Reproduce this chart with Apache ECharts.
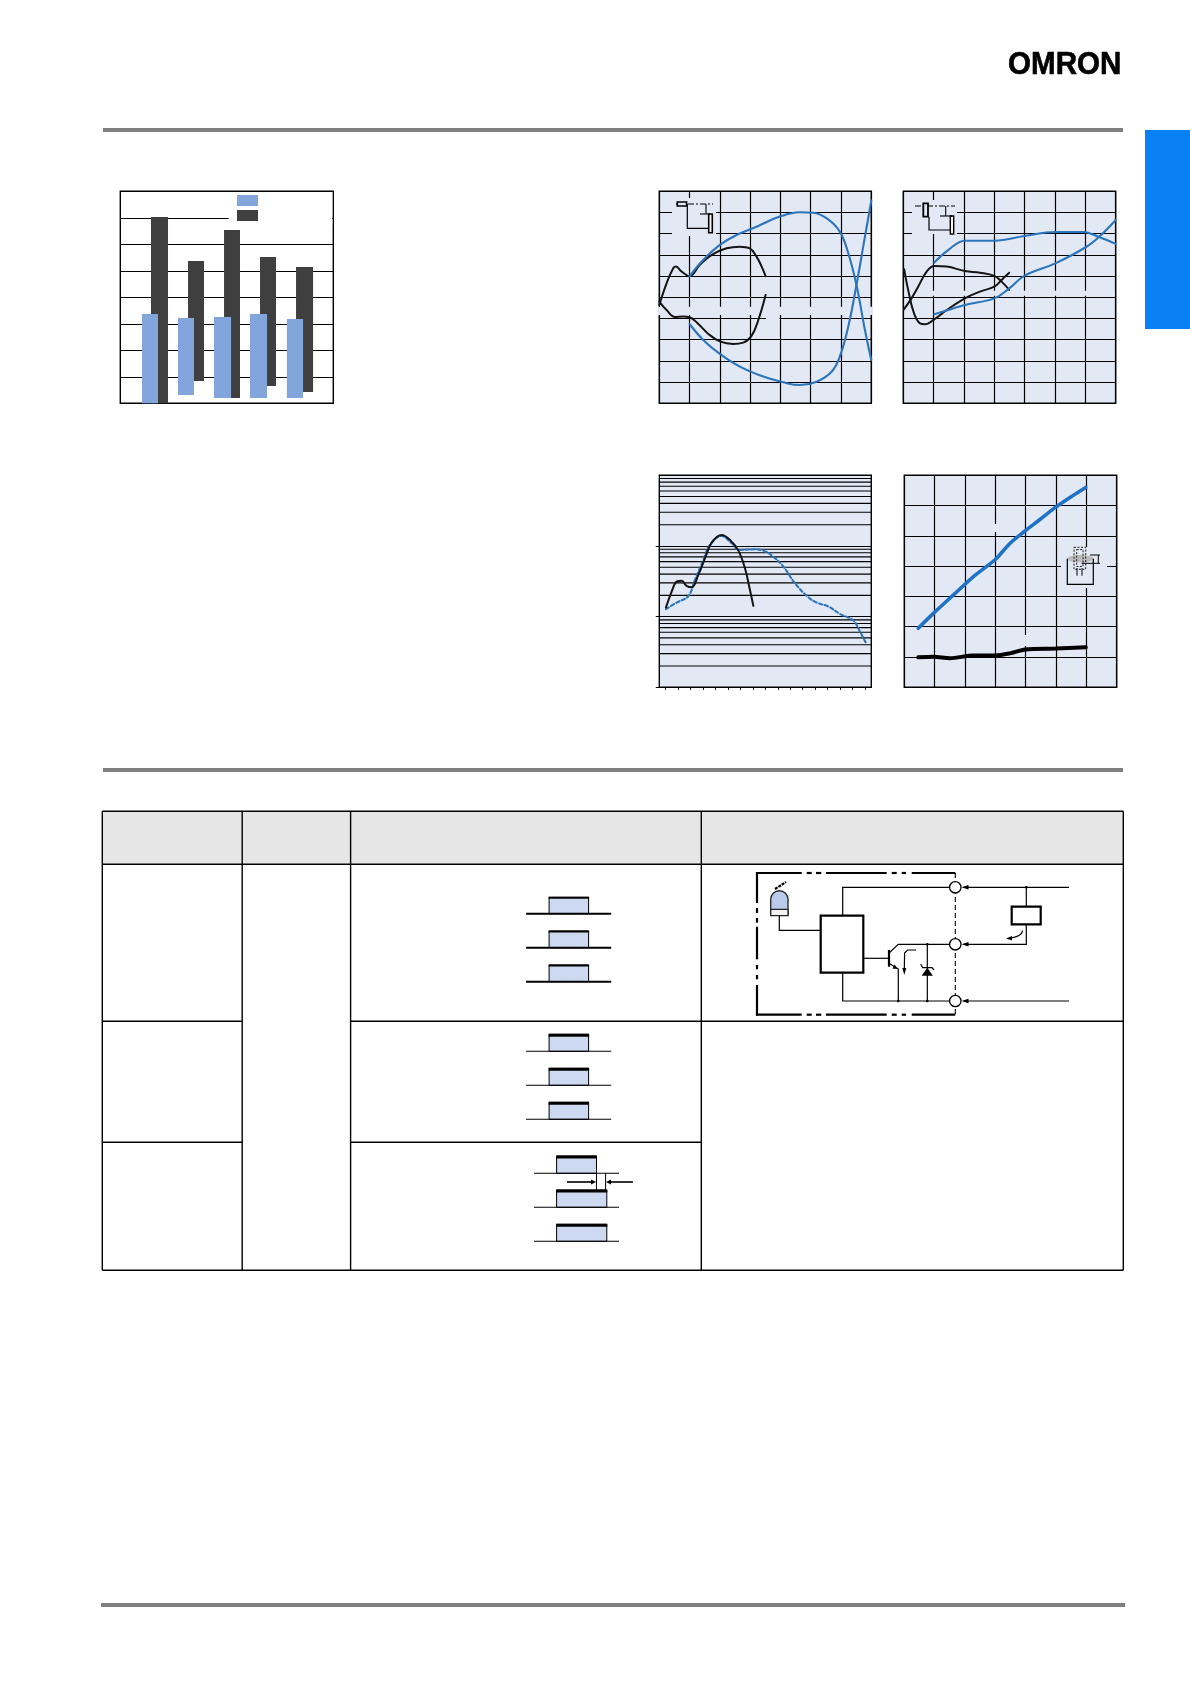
<!DOCTYPE html>
<html>
<head>
<meta charset="utf-8">
<style>html,body{margin:0;padding:0;background:#fff}#c{width:1190px;height:1684px}</style>
<script src="https://cdn.jsdelivr.net/npm/echarts@6/dist/echarts.min.js"></script>
</head>
<body>
<div id="c"></div>
<script>
// ---- bar chart (floating bars)
const lightFrom = [10.2, 27.1, 44.0, 60.9, 78.2];
const lightTo   = [17.7, 34.6, 52.0, 68.9, 85.8];
const lightLow  = [0, 0.31, 0.2, 0.2, 0.2];
const lightHigh = [3.37, 3.22, 3.26, 3.37, 3.18];
const darkFrom  = [14.4, 31.8, 48.7, 65.6, 82.5];
const darkTo    = [22.4, 39.3, 56.2, 73.1, 90.5];
const darkLow   = [0, 0.84, 0.2, 0.65, 0.43];
const darkHigh  = [7.03, 5.37, 6.54, 5.52, 5.14];

// ---- top middle chart
const aBlackUpper = [[0,-3.6],[2.4,6.6],[4.6,13.7],[5.5,14.5],[7.4,12.1],[10,10],[13.4,15.3],[17.3,20],[22.2,23.1],[26.6,23.9],[29.9,23.1],[32.1,19.2],[33.8,14.5],[35.1,10]];
const aBlackLower = [[0,-2],[2.4,-6],[5.2,-9.3],[7.9,-9.1],[10,-9.4],[12.9,-12.6],[16.2,-17.3],[20,-20.8],[24.4,-22],[27.7,-21.4],[30.5,-18.1],[32.7,-10.7],[35.1,1.1]];
const aBlueUpper  = [[10,10],[14.5,17.6],[20,24.7],[25.5,29.4],[32.1,33.3],[39.8,38.1],[46.4,40.1],[50.8,39.9],[55.2,37.3],[59.6,31],[62.4,20.8],[65.1,5.8],[67.9,-15.4],[70,-29.6]];
const aBlueLower  = [[10,-12.6],[14.5,-20.1],[20,-26.7],[26.6,-32.7],[34.3,-37.4],[40.9,-40.1],[46.4,-41.4],[51.9,-39.8],[56.9,-35.1],[59.6,-28],[62.4,-13.8],[65.1,5.8],[67.9,28.6],[70,45.6]];

// ---- top right chart
const bBlackDrop = [[0.3,13.2],[1.6,3.5],[3.5,-7.5],[5.5,-12.3],[7.1,-12.7],[10.2,-10.4],[14.3,-6],[20.3,-0.5],[25.3,2.7],[30,5],[32.4,8.2],[34.9,11.6]];
const bBlackRise = [[0.2,-5.7],[2.7,-0.5],[4.9,5],[7.7,12.1],[10.2,14.8],[14.3,14.5],[20.3,12.4],[25.3,11.6],[30,10.1],[32.4,7.4],[34.9,3.5]];
const bBlueUpper = [[10.2,16.4],[14.8,22.3],[20.3,26.7],[30,26.7],[39.9,28.9],[50.1,30.8],[59.3,30.8],[64.3,28.6],[70,25.2]];
const bBlueLower = [[10.2,-8],[15.4,-5.7],[20.3,-3.6],[30,-0.5],[34.9,4.2],[39.9,10.1],[50.1,16],[60.1,23.6],[64.8,28.9],[70,36.5]];

// ---- lower middle chart (log scale)
const cLogGridValues = [20,30,40,50,60,70,80,90,200,300,400,500,600,700,800,900,2000,3000,4000,5000,6000,7000,8000,9000];
const cTickCategories = ['1','2','3','4','5','6','7','8','9','10','11','12','13','14','15','16','17'];
const cSolid  = [[0.53,134],[0.99,226],[1.39,313],[1.79,323],[2.19,272],[2.59,260],[3.13,389],[3.66,668],[4.2,1114],[5.0,1431],[5.67,1215],[6.34,859],[6.87,483],[7.27,238],[7.54,142]];
const cDashed = [[0.53,128],[1.39,158],[2.33,196],[2.86,330],[3.53,634],[4.06,1033],[5,1386],[5.8,1092],[6.47,877],[7.54,897],[8.34,859],[9.14,706],[9.95,511],[10.88,296],[11.95,188],[12.62,158],[13.56,139],[14.49,109],[15.56,88],[16.1,61],[16.55,43]];

// ---- lower right chart
const dBlue  = [[0.46,1.95],[0.96,2.44],[1.62,3.05],[2.27,3.65],[3,4.22],[3.48,4.75],[3.99,5.17],[4.47,5.54],[4.98,5.94],[5.46,6.27],[5.98,6.6]];
const dBlack = [[0.46,0.99],[0.96,1.01],[1.51,0.96],[2.27,1.05],[3,1.05],[3.48,1.12],[3.99,1.25],[4.98,1.28],[5.98,1.32]];

const BG = '#e3e8f5', BLUE = '#2a75bb', BLACK = '#141414', LIGHTBAR = '#82a5dc', DARKBAR = '#3f3f3f';

function zipBars(a,b,c,d){ return a.map((v,i)=>[v,b[i],c[i],d[i]]); }
function floatBar(color){
  return function(p,api){
    const a = api.coord([api.value(0),api.value(3)]);
    const b = api.coord([api.value(1),api.value(2)]);
    return {type:'rect',shape:{x:a[0],y:a[1],width:b[0]-a[0],height:b[1]-a[1]},style:{fill:color}};
  };
}
function curve(name,data,xi,yi,color,width,smooth,dash){
  return {type:'line',name,data,xAxisIndex:xi,yAxisIndex:yi,showSymbol:false,symbol:'none',smooth,z:3,silent:true,
    lineStyle:{color,width,type:dash||'solid',cap:'round'},animation:false};
}
const frame = (l,t,w,h,bg)=>({show:true,left:l,top:t,width:w,height:h,backgroundColor:bg,borderColor:'#000',borderWidth:1.4,containLabel:false});
const split = {show:true,lineStyle:{color:'#000',width:1.2}};
const bare  = {axisLine:{show:false},axisTick:{show:false},axisLabel:{show:false}};
const valAxis = (g,min,max,interval,sp)=>Object.assign({type:'value',gridIndex:g,min,max,interval,splitLine:sp===false?{show:false}:split},bare);

// ---- non-data drawing (page furniture, table, schematics)
const G = [];
const line = (x1,y1,x2,y2,w,dash,c)=>G.push({type:'line',z:1,silent:true,shape:{x1,y1,x2,y2},style:{stroke:c||'#000',lineWidth:w||1.2,lineDash:dash||null}});
const rect = (x,y,w,h,fill,stroke,lw,dash)=>G.push({type:'rect',z:1,silent:true,shape:{x,y,width:w,height:h},style:{fill:fill||'none',stroke:stroke||'none',lineWidth:lw||0,lineDash:dash||null}});
const circ = (cx,cy,r,fill,stroke,lw)=>G.push({type:'circle',z:1,silent:true,shape:{cx,cy,r},style:{fill,stroke:stroke||'none',lineWidth:lw||0}});
const poly = (pts,fill)=>G.push({type:'polygon',z:1,silent:true,shape:{points:pts},style:{fill:fill||'#000'}});
const pline = (pts,w)=>G.push({type:'polyline',z:1,silent:true,shape:{points:pts},style:{stroke:'#000',lineWidth:w||1.2,fill:'none'}});

// rules and tab
rect(103,128,1020,4,'#808080');
rect(103,768,1020,4,'#808080');
rect(101,1603,1024,4,'#808080');
rect(1145,130,45,199,'#0a80f5');
G.push({type:'text',z:1,silent:true,x:1008,y:81.5,scaleX:0.925,style:{text:'OMRON',font:'bold 32px "Liberation Sans"',fill:'#000',stroke:'#000',lineWidth:0.6,textVerticalAlign:'bottom',textBaseline:'alphabetic',verticalAlign:'bottom'}});

// table
const TL=102.3,C1=242.2,C2=350.6,C3=701.3,TR=1123.3,T0=811.3,T1=864.3,T2=1021.3,T3=1142.3,T4=1270.3;
rect(TL,T0,TR-TL,T1-T0,'#e6e6e6');
[[TL,T0,TR,T0],[TL,T1,TR,T1],[TL,T2,C1,T2],[C2,T2,TR,T2],[TL,T3,C1,T3],[C2,T3,C3,T3],[TL,T4,TR,T4]].forEach(s=>line(s[0],s[1],s[2],s[3],1.4));
[[TL,T0,TL,T4],[C1,T0,C1,T4],[C2,T0,C2,T4],[C3,T0,C3,T4],[TR,T0,TR,T4]].forEach(s=>line(s[0],s[1],s[2],s[3],1.4));

// timing boxes
const BOXFILL='#cdd9f0';
function pulse(bx,bw,top,bottom,topW,lx,lw,baseW){
  rect(bx,top,bw,bottom-top,BOXFILL,'#000',1);
  rect(bx-0.5,top-0.5,bw+1,topW,'#000');
  line(lx,bottom,lx+lw,bottom,baseW);
}
[[897.3,913.7],[931,947.7],[965,981.7]].forEach(r=>pulse(549.1,39.5,r[0],r[1],2,526.1,85.1,2));
[[1034.3,1051.3],[1068.3,1085.3],[1102.3,1119.3]].forEach(r=>pulse(549.1,39.5,r[0],r[1],3,526.1,85.1,1.1));
pulse(556.6,39.9,1156,1173.3,3,534,85,1.1);
pulse(556.6,50.2,1190,1207.3,3,534,85,1.1);
pulse(556.6,50.2,1224.3,1241.3,3,534,85,1.1);
line(596.5,1173,596.5,1190,1); line(605.6,1173,605.6,1190,1);
line(567,1182,592,1182,1.6); poly([[596,1182],[591,1179.5],[591,1184.5]]);
line(632.9,1182,610,1182,1.6); poly([[606,1182],[611,1179.5],[611,1184.5]]);

// schematic outer frame
const FL=757,FT=873,FB=1014.7,FR=955.3;
[[756,801.7],[806.7,811.7],[816,821.3],[826,886.7],[891.7,896.7],[901.7,906],[911.7,955.3]].forEach(s=>{line(s[0],FT,s[1],FT,2.2);line(s[0],FB,s[1],FB,2.2);});
[[872,903],[908,913],[918,922.7],[926.7,959.3],[965,969.3],[975,979.3],[985,1015.7]].forEach(s=>line(FL,s[0],FL,s[1],2.2));
line(FR,FT,FR,FB,1.1,[5,3]);
// led
circ(779.35,899.4,8.65,'#b9caea','#222',1.3);
rect(770.7,899.4,17.3,10,'#b9caea');
line(770.7,899.4,770.7,915.7,1.3,null,'#222'); line(788,899.4,788,915.7,1.3,null,'#222');
rect(770.7,909.3,17.3,6.4,'#f2f2f2','#222',1.3);
line(775,889,786,882,2.2,[3,1]);
// wiring
pline([[779.3,915.7],[779.3,930.3],[820.7,930.3]]);
rect(820.7,915.7,42.6,57,'#fff','#000',2.2);
pline([[842.7,915.7],[842.7,887.3],[949.7,887.3]]);
pline([[842.7,972.7],[842.7,1001],[949.7,1001]]);
line(863.3,958.3,888.3,958.3,1.2);
line(889,950,889,966.7,2.2);
pline([[889,953],[898.3,944.3],[949.7,944.3]]);
pline([[889,963.3],[898.3,969],[898.3,1001]]);
poly([[897.5,968.7],[892.5,968.7],[894.5,964.5]]);
line(927.3,944.3,927.3,1001,1.2);
poly([[927.3,967.7],[921.7,975.7],[932.9,975.7]]);
pline([[920.7,964],[922.7,967.7],[932,967.7],[934,970]]);
pline([[916,950],[907.5,950],[904.6,953],[904.3,970]]);
poly([[904.3,975],[902.3,968],[906.3,968]]);
[[898.3,1001],[927.3,1001],[927.3,944.3],[1026.3,887.3]].forEach(p=>circ(p[0],p[1],1.3,'#000'));
[887.3,944.3,1001].forEach(y=>{circ(FR,y,5.7,'#fff','#000',1.3); poly([[961.5,y],[968.5,y-2.3],[968.5,y+2.3]]);});
line(968,887.3,1069,887.3,1.2); line(968,1001,1069,1001,1.2);
pline([[968,944.3],[1026.3,944.3],[1026.3,924.3]]);
line(1026.3,887.3,1026.3,906.7,1.2);
rect(1011.7,906.7,29,17.6,'#fff','#000',2.2);
G.push({type:'bezierCurve',z:1,silent:true,shape:{x1:1022.7,y1:930.7,x2:1011,y2:938,cpx1:1021.5,cpy1:936.5},style:{stroke:'#000',lineWidth:1.2,fill:'none'}});
poly([[1006,938.5],[1012,936],[1012,940.5]]);

// chart masks (gaps in the printed grids) and insets
rect(672,198,44,38,BG);
rect(658,306.7,215,8.3,BG);
rect(766,316.5,13.5,4,BG);
rect(912,200,45,34,BG);
rect(904.5,290.7,210,5,BG);
rect(1061,547,46,41,BG);
rect(993,524,5,8,BG);
rect(1023,635,5,11,BG);
rect(653,472,5.5,6,'#fff');

// inset A
line(676,204,713,204,1.2,[6,2,2,2]);
rect(677.3,202,9.3,4,BG,'#000',1.6);
pline([[687.3,204],[687.3,228.3],[709,228.3]]);
rect(708.7,214,3.6,18.7,'#f4f4f4','#000',1.6);
line(706,204,706,214,1.1); line(700,214,710,214,1.1);
// inset B
line(915,206,955,206,1.2,[6,2,2,2]);
rect(923.3,203.3,4.7,13.4,BG,'#000',1.8);
pline([[929,216.7],[929,230],[950,230]]);
rect(950.3,216,3.4,18,'#f4f4f4','#000',1.4);
line(945.7,206,945.7,216,1.1); line(940,216,952,216,1.1);
// inset D
G.push({type:'ellipse',z:1,silent:true,shape:{cx:1080.3,cy:558.7,rx:13.3,ry:3.7},style:{fill:'#bcbcbc'}});
rect(1074,547.3,11.7,22,'none','#000',0.9,[2,1.5]);
rect(1076.7,549.5,6.3,17,'none','#000',0.9,[2,1.5]);
line(1077,568,1077,575.7,1); line(1082,568,1082,575.7,1);
pline([[1067.3,558.7],[1067.3,584.3],[1093.3,584.3],[1093.3,558.7]]);
line(1081.7,563.3,1100,563.3,1); line(1098.3,555,1098.3,563.3,1); line(1090,555,1100,555,1);

const option = {
  animation:false,
  backgroundColor:'#fff',
  grid:[
    frame(120.3,191.3,213,212,'#fff'),
    frame(659.3,191.3,212,212,BG),
    frame(903.3,191.3,212.4,212,BG),
    frame(659.3,475.3,212,212,BG),
    frame(904.3,475.3,212.4,212,BG)
  ],
  xAxis:[
    valAxis(0,0,100,100,false),
    valAxis(1,0,70,10),
    valAxis(2,0,70,10),
    {type:'category',gridIndex:3,data:cTickCategories,boundaryGap:true,axisLine:{show:false},splitLine:{show:false},
      axisLabel:{show:false,interval:0},axisTick:{show:true,interval:0,alignWithLabel:true,length:2.5,lineStyle:{color:'#000',width:1}}},
    Object.assign({type:'value',gridIndex:3,min:0,max:17,show:false,splitLine:{show:false}},bare),
    valAxis(4,0,7,1)
  ],
  yAxis:[
    valAxis(0,0,8,1),
    valAxis(1,-50,50,10),
    valAxis(2,-50,50,10),
    {type:'log',logBase:10,gridIndex:3,min:10,max:10000,splitLine:split,axisLine:{show:false},axisLabel:{show:false},
      axisTick:{show:true,length:3.5,lineStyle:{color:'#000',width:1}},minorTick:{show:false},minorSplitLine:{show:false}},
    valAxis(4,0,7,1)
  ],
  legend:{
    show:true,left:228.7,top:192.5,orient:'vertical',itemWidth:21,itemHeight:11,itemGap:4,selectedMode:false,
    padding:[2.5,74.2,4,8.3],backgroundColor:'#fff',borderWidth:0,z:4,
    data:[{name:'Series A',icon:'rect'},{name:'Series B',icon:'rect'}],
    formatter:()=>'',textStyle:{fontSize:1,color:'#fff'}
  },
  graphic:{elements:G},
  series:[
    {type:'custom',name:'Series B',xAxisIndex:0,yAxisIndex:0,z:2,silent:true,itemStyle:{color:DARKBAR},renderItem:floatBar(DARKBAR),
      encode:{x:[0,1],y:[2,3]},data:zipBars(darkFrom,darkTo,darkLow,darkHigh)},
    {type:'custom',name:'Series A',xAxisIndex:0,yAxisIndex:0,z:3,silent:true,itemStyle:{color:LIGHTBAR},renderItem:floatBar(LIGHTBAR),
      encode:{x:[0,1],y:[2,3]},data:zipBars(lightFrom,lightTo,lightLow,lightHigh)},

    curve('A black upper',aBlackUpper,1,1,BLACK,2,0.4),
    curve('A black lower',aBlackLower,1,1,BLACK,2,0.4),
    curve('A blue upper',aBlueUpper,1,1,BLUE,2.1,0.4),
    curve('A blue lower',aBlueLower,1,1,BLUE,2.1,0.4),

    curve('B black drop',bBlackDrop,2,2,BLACK,2,0.4),
    curve('B black rise',bBlackRise,2,2,BLACK,2,0.4),
    curve('B blue upper',bBlueUpper,2,2,BLUE,2.1,0.4),
    curve('B blue lower',bBlueLower,2,2,BLUE,2.1,0.4),

    {type:'custom',name:'C log grid',xAxisIndex:4,yAxisIndex:3,z:1,silent:true,
      renderItem:function(p,api){
        const a=api.coord([0,api.value(1)]), b=api.coord([17,api.value(1)]);
        return {type:'line',shape:{x1:a[0],y1:a[1],x2:b[0],y2:b[1]},style:{stroke:'#000',lineWidth:1.1}};
      },
      encode:{x:0,y:1},data:cLogGridValues.map(v=>[0,v])},
    curve('C dashed',cDashed,4,3,BLUE,2.1,0.4,[3.5,2.5]),
    curve('C solid',cSolid,4,3,BLACK,2,0.4),

    curve('D blue',dBlue,5,4,'#1f72c4',3.6,0.3),
    curve('D black',dBlack,5,4,'#000',4,0.3)
  ]
};
const chart = echarts.init(document.getElementById('c'),null,{width:1190,height:1684});
chart.setOption(option);
</script>
</body>
</html>
